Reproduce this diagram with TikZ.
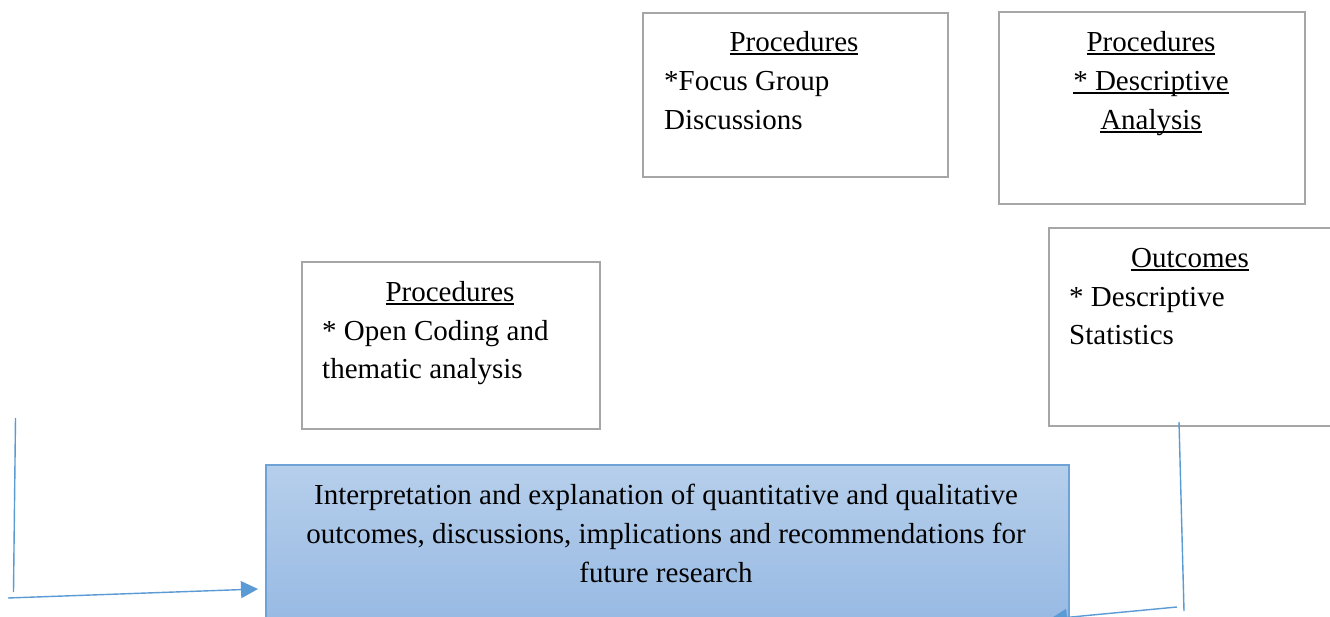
\documentclass[tikz,border=0pt]{standalone}
\usepackage{fontspec}
\setmainfont{Liberation Serif}
\usetikzlibrary{arrows.meta}
\definecolor{boxgray}{HTML}{A6A6A6}
\definecolor{flowblue}{HTML}{5B9BD5}
\definecolor{fillTop}{HTML}{B6CFEB}
\definecolor{fillBot}{HTML}{94B7E2}
\definecolor{mainEdge}{HTML}{6FA3D8}
% underlined word with a heavier rule
\newcommand\ulword[1]{\setbox0\hbox{#1}\rlap{\rule[-4pt]{\wd0}{2pt}}\box0}
\begin{document}
\begin{tikzpicture}[x=1pt,y=-1pt,
  graybox/.style={draw=boxgray, line width=2pt, fill=white, inner sep=0pt, anchor=north west},
  mainbox/.style={draw=mainEdge, line width=1.6pt, top color=fillTop, bottom color=fillBot, inner sep=0pt, anchor=north west},
  txt/.style={inner sep=0pt, font=\fontsize{29}{38}\selectfont},
  flowline/.style={draw=flowblue, line width=1.4pt},
  flowarrow/.style={flowline, -{Triangle[length=17pt,width=17pt]}}]
\useasboundingbox (0,0) rectangle (1330,617);
\clip (0,0) rectangle (1330,617);
\fill[white] (0,0) rectangle (1330,617);

% boxes
\node[graybox, minimum width=305pt, minimum height=164pt] (fgbox) at (642,12) {};
\node[graybox, minimum width=306pt, minimum height=192pt] (dabox) at (998,11) {};
\node[graybox, minimum width=300pt, minimum height=198pt] (outbox) at (1048,227) {};
\node[graybox, minimum width=298pt, minimum height=167pt] (ocbox) at (301,261) {};
\node[mainbox, minimum width=803pt, minimum height=175pt] (mainbox) at (265,464) {};

% focus group box
\node[txt, anchor=base] (fgHead) at (794,51.5) {\ulword{Procedures}};
\node[txt, anchor=base west] (fgL1) at (664,90.5) {*Focus Group};
\node[txt, anchor=base west] (fgL2) at (664,129.5) {Discussions};

% descriptive analysis box
\node[txt, anchor=base] (daHead) at (1151,51.5) {\ulword{Procedures}};
\node[txt, anchor=base] (daL1) at (1151,90.5) {\ulword{* Descriptive}};
\node[txt, anchor=base] (daL2) at (1151,129.5) {\ulword{Analysis}};

% outcomes box
\node[txt, anchor=base] (outHead) at (1190,267.5) {\ulword{Outcomes}};
\node[txt, anchor=base west] (outL1) at (1069,306.5) {* Descriptive};
\node[txt, anchor=base west] (outL2) at (1069,344.5) {Statistics};

% open coding box
\node[txt, anchor=base] (ocHead) at (450,301.5) {\ulword{Procedures}};
\node[txt, anchor=base west] (ocL1) at (322,340.5) {* Open Coding and};
\node[txt, anchor=base west] (ocL2) at (322,378.5) {thematic analysis};

% interpretation box
\node[txt, anchor=base] (mL1) at (666,504.5) {Interpretation and explanation of quantitative and qualitative};
\node[txt, anchor=base] (mL2) at (666,543.5) {outcomes, discussions, implications and recommendations for};
\node[txt, anchor=base] (mL3) at (666,582.5) {future research};

% connectors
\coordinate (lvTop) at (15.5,418);
\coordinate (lvBot) at (13.5,592);
\coordinate (laStart) at (8,598);
\coordinate (laEnd) at (258,589);
\draw[flowline] (lvTop) -- (lvBot);
\draw[flowarrow] (laStart) -- (laEnd);

\coordinate (rvTop) at (1179,422);
\coordinate (rvBot) at (1184,611);
\coordinate (raStart) at (1177,607);
\coordinate (raEnd) at (1050,619);
\draw[flowline] (rvTop) -- (rvBot);
\draw[flowarrow] (raStart) -- (raEnd);
\end{tikzpicture}
\end{document}
